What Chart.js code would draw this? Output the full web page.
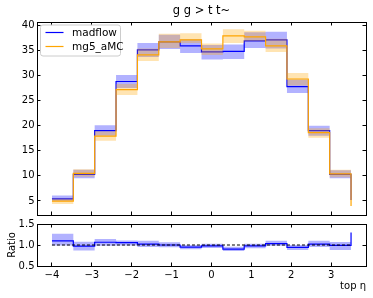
<!DOCTYPE html>
<html><head><meta charset="utf-8">
<script src="https://cdn.jsdelivr.net/npm/chart.js@4/dist/chart.umd.min.js"></script>
<style>
html,body{margin:0;padding:0;background:#fff;}
#wrap{position:relative;width:373px;height:298px;}
canvas{position:absolute;left:0;top:0;}
</style></head><body>
<div id="wrap"><canvas id="top" width="373" height="298"></canvas><canvas id="bot" width="373" height="298"></canvas></div>
<script>
// ---- data ----
const binEdges = [-4.0, -3.464, -2.929, -2.393, -1.857, -1.321, -0.786, -0.25, 0.286, 0.821, 1.357, 1.893, 2.429, 2.964, 3.5];
const madflow    = [5.4, 10.3, 19.0, 28.8, 35.1, 36.7, 35.9, 34.7, 34.8, 36.9, 37.1, 27.8, 19.0, 10.3];
const madflowEnd = 5.2;
const madflowLo  = [5.0, 9.5, 18.0, 27.5, 33.7, 35.3, 34.5, 33.2, 33.3, 35.5, 35.4, 26.5, 18.0, 9.5];
const madflowHi  = [6.1, 11.2, 20.1, 30.1, 36.5, 38.1, 37.2, 36.1, 36.2, 38.6, 38.7, 29.2, 20.0, 11.1];
const mg5        = [4.95, 10.5, 17.9, 27.2, 34.1, 36.7, 37.1, 35.3, 37.9, 37.7, 35.9, 29.3, 18.6, 10.4];
const mg5End     = 4.0;
const mg5Lo      = [4.4, 9.8, 17.0, 26.1, 32.9, 35.5, 36.5, 34.1, 36.5, 36.8, 34.7, 28.0, 17.6, 9.7];
const mg5Hi      = [5.5, 11.3, 18.9, 28.3, 35.4, 38.3, 38.4, 36.4, 39.2, 38.9, 37.3, 30.5, 19.5, 11.2];
const ratio      = [1.10, 0.975, 1.065, 1.055, 1.02, 1.0, 0.95, 0.98, 0.90, 0.98, 1.035, 0.945, 1.02, 0.99];
const ratioEnd   = 1.3;
const ratioLo    = [0.99, 0.87, 0.98, 0.99, 0.95, 0.945, 0.90, 0.93, 0.855, 0.92, 0.98, 0.88, 0.95, 0.88];
const ratioHi    = [1.27, 1.08, 1.14, 1.11, 1.10, 1.065, 1.0, 1.03, 0.96, 1.03, 1.10, 1.0, 1.10, 1.07];
const refLine    = [1.0, 1.0];
const refX       = [-4.0, 3.5];
const xTickVals  = [-4, -3, -2, -1, 0, 1, 2, 3];
const yTickVals  = [5, 10, 15, 20, 25, 30, 35, 40];
const rTickVals  = [0.5, 1.0, 1.5];
const seriesNames = ['madflow', 'mg5_aMC'];
const titleText = 'g g > t t~';
const xLabel = 'top \u03b7';
const rLabel = 'Ratio';

// ---- styling ----
Chart.defaults.font.family = 'DejaVu Sans';
Chart.defaults.font.size = 10;
Chart.defaults.color = '#000';
const BLUE = '#0000ff', ORANGE = '#ffa500';
const BLUE_BAND = 'rgba(0,0,255,0.3)', ORANGE_BAND = 'rgba(255,165,0,0.3)';

function steps(vals, last) {
  return binEdges.map((x, i) => ({x, y: i < vals.length ? vals[i] : (last === undefined ? vals[vals.length - 1] : last)}));
}
const minus = v => String(v).replace('-', '\u2212');
const gridOpt = {drawOnChartArea: false, drawTicks: true, tickLength: -3.5, tickColor: '#000', tickWidth: 1, color: '#000'};
const borderOpt = {display: true, color: '#000', width: 1};
const setTicks = arr => (s => { s.ticks = arr.map(v => ({value: v})); });
const XMIN = -4.375, XMAX = 3.875;

function lineDs(label, data, color, order, extra) {
  return Object.assign({label, data, borderColor: color, backgroundColor: color, borderWidth: 1.2,
    pointRadius: 0, stepped: 'before', fill: false, order}, extra || {});
}

const decorPlugin = {
  id: 'decor',
  afterDraw(chart) {
    const ctx = chart.ctx;
    const ca = chart.chartArea;
    ctx.save();
    // title centred over the plot area
    ctx.font = '11.5px "DejaVu Sans"';
    ctx.fillStyle = '#000';
    ctx.textAlign = 'center';
    ctx.textBaseline = 'middle';
    ctx.fillText(titleText, (ca.left + ca.right) / 2, 11.5);
    // legend
    const x0 = 40.5, y0 = 25, w = 80, h = 31, r = 2.5;
    ctx.beginPath();
    ctx.roundRect(x0, y0, w, h, r);
    ctx.fillStyle = 'rgba(255,255,255,0.8)';
    ctx.fill();
    ctx.strokeStyle = '#cccccc';
    ctx.lineWidth = 1;
    ctx.stroke();
    const items = [[seriesNames[0], BLUE, 32.5], [seriesNames[1], ORANGE, 46.5]];
    ctx.font = '10.5px "DejaVu Sans"';
    ctx.textAlign = 'left';
    ctx.fillStyle = '#000';
    for (const [t, c, y] of items) {
      ctx.beginPath();
      ctx.moveTo(45.5, y); ctx.lineTo(63.5, y);
      ctx.strokeStyle = c; ctx.lineWidth = 1.2; ctx.stroke();
      ctx.fillText(t, 72, y + 0.5);
    }
    ctx.restore();
  }
};

new Chart(document.getElementById('top'), {
  type: 'line',
  data: {datasets: [
    lineDs('mLo', steps(madflowLo), 'rgba(0,0,0,0)', 10, {borderWidth: 0}),
    lineDs('mHi', steps(madflowHi), 'rgba(0,0,0,0)', 9, {borderWidth: 0, fill: {target: 0}, backgroundColor: BLUE_BAND}),
    lineDs(seriesNames[0], steps(madflow, madflowEnd), BLUE, 8),
    lineDs('oLo', steps(mg5Lo), 'rgba(0,0,0,0)', 7, {borderWidth: 0}),
    lineDs('oHi', steps(mg5Hi), 'rgba(0,0,0,0)', 6, {borderWidth: 0, fill: {target: 3}, backgroundColor: ORANGE_BAND}),
    lineDs(seriesNames[1], steps(mg5, mg5End), ORANGE, 5)
  ]},
  options: {
    responsive: false, animation: false, devicePixelRatio: 1,
    layout: {padding: {top: 22, left: 0, right: 7, bottom: 83}},
    plugins: {legend: {display: false}, tooltip: {enabled: false}, title: {display: false}},
    scales: {
      x: {type: 'linear', position: 'bottom', min: XMIN, max: XMAX, ticks: {display: false}, grid: gridOpt, border: borderOpt,
          afterBuildTicks: setTicks(xTickVals), afterFit: s => { s.height = 0; }},
      x2: {type: 'linear', position: 'top', min: XMIN, max: XMAX, ticks: {display: false}, grid: gridOpt, border: borderOpt,
          afterBuildTicks: setTicks(xTickVals), afterFit: s => { s.height = 0; }},
      y: {type: 'linear', position: 'left', min: 2.2, max: 40.66, grid: gridOpt, border: borderOpt,
          ticks: {padding: 6, autoSkip: false, callback: v => minus(v)},
          afterBuildTicks: setTicks(yTickVals), afterFit: s => { s.width = 37; }},
      y2: {type: 'linear', position: 'right', min: 2.2, max: 40.66, ticks: {display: false}, grid: gridOpt, border: borderOpt,
          afterBuildTicks: setTicks(yTickVals), afterFit: s => { s.width = 0; }}
    }
  },
  plugins: [decorPlugin]
});

new Chart(document.getElementById('bot'), {
  type: 'line',
  data: {datasets: [
    lineDs('rLo', steps(ratioLo), 'rgba(0,0,0,0)', 10, {borderWidth: 0}),
    lineDs('rHi', steps(ratioHi), 'rgba(0,0,0,0)', 9, {borderWidth: 0, fill: {target: 0}, backgroundColor: BLUE_BAND}),
    lineDs('ratio', steps(ratio, ratioEnd), BLUE, 8),
    lineDs('ref', refX.map((x, i) => ({x, y: refLine[i]})), '#000', 1, {stepped: false, borderWidth: 1, borderDash: [3, 2]})
  ]},
  options: {
    responsive: false, animation: false, devicePixelRatio: 1,
    layout: {padding: {top: 224, left: 0, right: 7, bottom: 0}},
    plugins: {legend: {display: false}, tooltip: {enabled: false}},
    scales: {
      x: {type: 'linear', position: 'bottom', min: XMIN, max: XMAX, grid: gridOpt, border: borderOpt,
          ticks: {padding: 6.5, autoSkip: false, maxRotation: 0, callback: v => minus(v)},
          title: {display: true, text: xLabel, align: 'end', font: {size: 10}, padding: {top: 0, bottom: 5.5}},
          afterBuildTicks: setTicks(xTickVals), afterFit: s => { s.height = 32; }},
      x2: {type: 'linear', position: 'top', min: XMIN, max: XMAX, ticks: {display: false}, grid: gridOpt, border: borderOpt,
          afterBuildTicks: setTicks(xTickVals), afterFit: s => { s.height = 0; }},
      y: {type: 'linear', position: 'left', min: 0.5, max: 1.5, grid: gridOpt, border: borderOpt,
          ticks: {padding: 6, autoSkip: false, callback: v => Number(v).toFixed(1)},
          title: {display: true, text: rLabel, font: {size: 10}, padding: {top: 6, bottom: 0}},
          afterBuildTicks: setTicks(rTickVals), afterFit: s => { s.width = 37; }},
      y2: {type: 'linear', position: 'right', min: 0.5, max: 1.5, ticks: {display: false}, grid: gridOpt, border: borderOpt,
          afterBuildTicks: setTicks(rTickVals), afterFit: s => { s.width = 0; }}
    }
  }
});
</script>
</body></html>
